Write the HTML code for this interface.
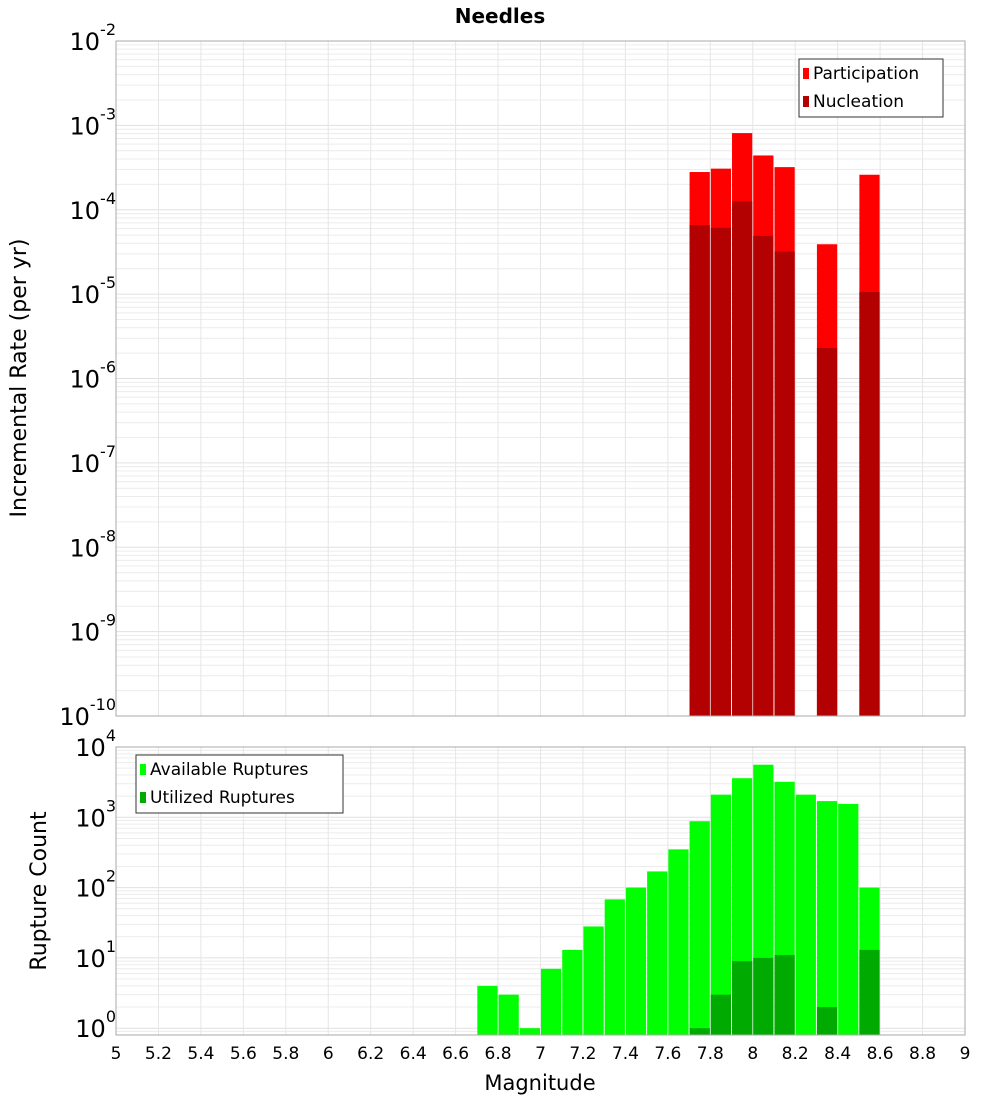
<!DOCTYPE html>
<html><head><meta charset="utf-8"><style>
body{margin:0;background:#fff;}
svg{display:block;font-family:"DejaVu Sans","Liberation Sans",sans-serif;}
</style></head><body>
<svg id="chart" width="1000" height="1100"></svg>
<script>
const topMags=[7.7,7.8,7.9,8.0,8.1,8.3,8.5];
const participation=[2.8e-4,3.07e-4,8.1e-4,4.4e-4,3.2e-4,3.9e-5,2.6e-4];
const nucleation=[6.6e-5,6.1e-5,1.26e-4,4.9e-5,3.2e-5,2.3e-6,1.06e-5];
const botMags=[6.7,6.8,6.9,7.0,7.1,7.2,7.3,7.4,7.5,7.6,7.7,7.8,7.9,8.0,8.1,8.2,8.3,8.4,8.5];
const available=[4,3,1,7,13,28,68,100,170,350,880,2100,3600,5600,3200,2100,1700,1550,100];
const utilized=[0,0,0,0,0,0,0,0,0,0,1,3,9,10,11,0,2,0,13];
const xTicks=[5,5.2,5.4,5.6,5.8,6,6.2,6.4,6.6,6.8,7,7.2,7.4,7.6,7.8,8,8.2,8.4,8.6,8.8,9];
const topExps=[-2,-3,-4,-5,-6,-7,-8,-9,-10];
const botExps=[4,3,2,1,0];

const NS="http://www.w3.org/2000/svg";
const svg=document.getElementById('chart');
function mk(tag,attrs,parent,text){const e=document.createElementNS(NS,tag);for(const k in attrs)e.setAttribute(k,attrs[k]);if(text!==undefined)e.textContent=text;(parent||svg).appendChild(e);return e;}
const X0=116,X1=965;
const x=m=>X0+(m-5)*(X1-X0)/4;
const yTop=v=>41+(-2-Math.log10(v))*84.375;
const yBot=v=>747+(4-Math.log10(v))*70.3;

function grid(yf,minExp,maxExp,top,bottom){
  for(let e=minExp;e<maxExp;e++){for(let k=1;k<10;k++){const yy=yf(k*Math.pow(10,e));if(yy<top-0.5||yy>bottom+0.5)continue;
    const l=mk('line',{x1:X0,x2:X1,y1:yy,y2:yy,stroke:k==1?'#e0e0e0':'#ececec','stroke-width':1});
    }}
  xTicks.forEach(t=>{const l=mk('line',{x1:x(t),x2:x(t),y1:top,y2:bottom,stroke:'#e6e6e6','stroke-width':1});
    });
}
grid(yTop,-11,-1,41,716);
grid(yBot,-1,5,747,1035);

topMags.forEach((m,i)=>{
  const b=mk('rect',{x:x(m)+0.5,y:yTop(participation[i]),width:x(m+0.1)-x(m)-1,height:716-yTop(participation[i]),fill:'#ff0000'});
  
  const n=mk('rect',{x:x(m)+0.5,y:yTop(nucleation[i]),width:x(m+0.1)-x(m)-1,height:716-yTop(nucleation[i]),fill:'#b30000'});
  
});
botMags.forEach((m,i)=>{
  if(available[i]>0){const b=mk('rect',{x:x(m)+0.5,y:yBot(available[i]),width:x(m+0.1)-x(m)-1,height:1035-yBot(available[i]),fill:'#00ff00'});
  }
  if(utilized[i]>0){const n=mk('rect',{x:x(m)+0.5,y:yBot(utilized[i]),width:x(m+0.1)-x(m)-1,height:1035-yBot(utilized[i]),fill:'#00aa00'});
  }
});

const f1=mk('rect',{x:X0,y:41,width:X1-X0,height:675,fill:'none',stroke:'#aaaaaa'});

const f2=mk('rect',{x:X0,y:747,width:X1-X0,height:288,fill:'none',stroke:'#aaaaaa'});


function ylabel(yy,e,name){const t=mk('text',{x:116,y:yy+9,'text-anchor':'end','font-size':24,fill:'#000'});
  
  mk('tspan',{},t,'10');mk('tspan',{dy:-15,'font-size':16},t,String(e));}
topExps.forEach(e=>ylabel(yTop(Math.pow(10,e)),e,'y-tick-label'));
botExps.forEach(e=>ylabel(yBot(Math.pow(10,e)),e,'y-tick-label'));

xTicks.forEach(t=>{const l=mk('text',{x:x(t),y:1059,'text-anchor':'middle','font-size':17,fill:'#000'},svg,String(t));
  });

let tt=mk('text',{x:500,y:23,'text-anchor':'middle','font-size':20,'font-weight':'bold'},svg,'Needles');

tt=mk('text',{x:540,y:1090,'text-anchor':'middle','font-size':21},svg,'Magnitude');

tt=mk('text',{x:0,y:0,'text-anchor':'middle','font-size':22,transform:'translate(26,378) rotate(-90)'},svg,'Incremental Rate (per yr)');

tt=mk('text',{x:0,y:0,'text-anchor':'middle','font-size':22,transform:'translate(46,891) rotate(-90)'},svg,'Rupture Count');


function legend(x0,y0,w,items,name){
  const g=mk('g',{});
  mk('rect',{x:x0,y:y0,width:w,height:58,fill:'#fff',stroke:'#333','stroke-width':1},g);
  items.forEach((it,i)=>{
    const yy=y0+14+i*28;
    const s=mk('rect',{x:x0+4,y:yy-5,width:6,height:11,fill:it[1]},g);
    
    const t=mk('text',{x:x0+14,y:yy+6,'font-size':17,fill:'#000'},g,it[0]);
    
  });
}
legend(799,59,144,[['Participation','#ff0000'],['Nucleation','#b30000']],'top-legend');
legend(136,755,207,[['Available Ruptures','#00ff00'],['Utilized Ruptures','#00aa00']],'bottom-legend');
</script>
</body></html>
